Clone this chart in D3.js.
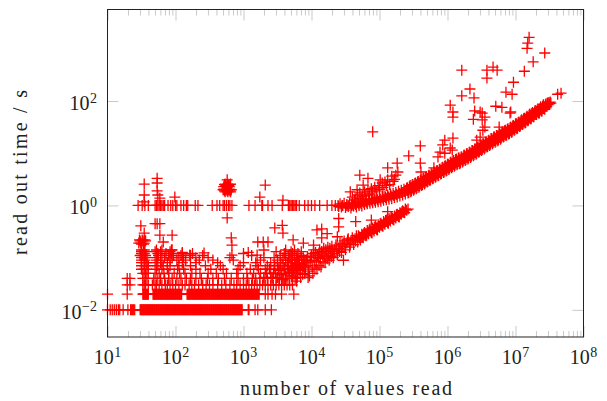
<!DOCTYPE html>
<html>
<head>
<meta charset="utf-8">
<script src="https://cdn.jsdelivr.net/npm/d3@7"></script>
<style>
body { margin: 0; background: #fff; }
text { font-family: "Liberation Serif", serif; fill: #222; }
</style>
</head>
<body>
<script>
// all readings below are log10 of the value
let xMajor = [1, 2, 3, 4, 5, 6, 7, 8];
let yMajor = [-2, 0, 2];
let xLabel = "number of values read";
let yLabel = "read out time / s";

// times come in steps of 0.01 s, so the short reads sit on rows
let rowOne = [1.00,1.04,1.07,1.10,1.13,1.16,1.18,1.23,1.30,1.34,1.35,1.37,1.38,1.40,
  1.48,1.49,1.50,1.51,1.52,1.53,1.54,1.55,1.56,1.57,1.58,1.59,1.60,1.61,1.62,1.63,1.64,1.65,1.66,1.67,1.68,1.69,
  1.70,1.71,1.72,1.73,1.74,1.75,1.76,1.77,1.78,1.79,1.80,1.81,1.82,1.83,1.84,1.85,1.86,1.87,1.88,1.89,
  1.90,1.91,1.92,1.93,1.94,1.95,1.96,1.97,1.98,1.99,2.00,2.01,2.02,2.03,2.04,2.05,2.06,2.07,2.08,2.09,
  2.10,2.11,2.12,2.13,2.14,2.15,2.16,2.17,2.18,2.19,2.20,2.21,2.22,2.23,2.24,2.25,2.26,2.27,2.28,2.29,
  2.30,2.31,2.32,2.33,2.34,2.35,2.36,2.37,2.38,2.39,2.40,2.41,2.42,2.43,2.44,2.45,2.46,2.47,2.48,2.49,
  2.50,2.51,2.52,2.53,2.54,2.55,2.56,2.57,2.58,2.59,2.60,2.61,2.62,2.63,2.64,2.65,2.66,2.67,2.68,2.69,
  2.70,2.71,2.72,2.73,2.74,2.75,2.76,2.77,2.78,2.79,2.80,2.81,2.82,2.83,2.84,2.85,2.86,2.87,2.88,2.89,
  2.90,2.91,2.92,2.93,2.94,2.95,2.96,2.97,2.98,
  3.07,3.08,3.17,3.21,3.32,3.41];
let rowTwo = [1.00,1.29,1.52,1.53,1.54,1.55,1.56,1.57,1.58,1.59,1.60,1.67,1.68,1.69,1.70,1.71,1.72,1.73,1.74,1.75,1.76,1.77,1.78,1.79,
  1.80,1.81,1.82,1.83,1.84,1.85,1.86,1.87,1.88,1.89,1.90,1.91,1.92,1.93,1.94,1.95,1.96,1.97,1.98,1.99,
  2.00,2.01,2.02,2.03,2.04,2.05,2.06,2.07,2.08,2.09,2.17,2.18,2.19,2.20,2.21,2.22,2.23,2.24,2.25,2.26,2.27,2.28,2.29,
  2.30,2.31,2.32,2.33,2.34,2.35,2.36,2.37,2.38,2.39,2.40,2.41,2.42,2.43,2.44,2.45,2.46,2.47,2.48,2.49,
  2.50,2.51,2.52,2.53,2.54,2.55,2.56,2.57,2.58,2.59,2.60,2.61,2.62,2.63,2.64,2.65,2.66,2.67,2.68,2.69,
  2.70,2.71,2.72,2.73,2.74,2.75,2.76,2.77,2.78,2.79,2.80,2.81,2.82,2.83,2.84,2.85,2.86,2.87,2.88,2.89,
  2.90,2.91,2.92,2.93,2.94,2.95,2.96,2.97,2.98,2.99,3.00,3.01,3.02,3.03,3.04,3.05,3.06,3.07,3.08,3.09,
  3.10,3.11,3.12,3.13,3.14,3.15,3.16,3.17,3.18,3.19,3.20,3.21,3.22,3.23,
  3.32,3.36,3.42,3.47,3.56,3.74];
let rowThree = [1.29,1.33,1.52,1.54,1.56,1.60,1.66,1.70,1.72,1.76,1.80,1.85,1.88,1.92,1.96,2.00,2.05,2.10,2.14,2.20,2.24,2.28,
  2.34,2.40,2.45,2.50,2.55,2.62,2.68,2.74,2.80,2.86,2.90,2.95,3.00,3.04,3.08,3.12,3.16,3.20,3.24,3.28,3.32,3.36,3.40,3.44,3.48,3.52,3.56,3.60,3.64,3.68,3.72];
let rowFour = [1.29,1.33,1.52,1.55,1.58,1.68,1.73,1.78,1.84,1.90,1.95,2.02,2.08,2.16,2.22,2.30,2.38,2.47,2.55,2.63,2.72,2.82,2.92,
  3.00,3.06,3.13,3.18,3.24,3.30,3.35,3.42,3.48,3.53,3.58,3.62,3.67,3.72,3.76];
let rowFive = [1.52,1.56,1.60,1.70,1.76,1.83,1.90,1.98,2.06,2.14,2.24,2.36,2.48,2.60,2.75,2.90,3.05,3.15,3.25,3.33,3.40,3.47,3.55,3.62,3.68,3.74,3.80];
let rowSix = [1.50,1.54,1.58,1.72,1.80,1.88,2.03,2.12,2.30,2.52,2.70,2.92,3.10,3.22,3.32,3.45,3.52,3.60,3.66,3.72,3.78,3.84];
let rowSeven = [1.50,1.55,1.60,1.74,1.82,1.92,2.05,2.22,2.44,2.66,2.95,3.20,3.35,3.50,3.58,3.65,3.70,3.76,3.82,3.88];
let rowEight = [1.50,1.54,1.58,1.70,1.78,1.88,2.10,2.30,2.62,3.00,3.18,3.40,3.55,3.65,3.72,3.80,3.86];
let rowNine = [1.50,1.55,1.72,1.80,1.92,2.02,2.15,2.35,2.55,2.85,3.25,3.50,3.62,3.72,3.80,3.90];
let rowTen = [1.50,1.54,1.58,1.73,1.84,1.95,2.05,2.12,2.30,2.48,2.80,3.30,3.45,3.58,3.68,3.78];
let rowEleven = [1.48,1.52,1.56,1.75,1.90,1.97,2.08,2.22,2.40,3.12,3.54,3.66,3.75,3.85];
let rowTwelve = [1.50,1.54,1.74,1.86,1.94,2.10,2.25,3.00,3.60,3.72,3.80];
let rowThirteen = [1.50,1.55,1.70,1.78,1.92,3.48,3.70,3.85];
let rowFourteen = [1.50,1.54,1.72,1.80,1.94,3.30,3.62,3.75];
let rowLevels = [0.01,0.02,0.03,0.04,0.05,0.06,0.07,0.08,0.09,0.10,0.11,0.12,0.13,0.14];

// reads that took about a second
let rowSecond = [1.45,1.51,1.55,1.60,1.70,1.72,1.74,1.76,1.78,1.80,1.82,1.84,1.89,1.93,1.96,2.00,2.02,2.08,2.12,2.16,2.18,2.29,2.33,
  2.54,2.61,2.65,2.70,2.72,2.75,2.78,2.80,2.83,3.08,3.17,3.27,3.28,3.36,3.42,3.57,3.66,3.68,3.70,3.72,3.74,3.76,3.78,3.82,
  3.90,3.95,4.00,4.05,4.12,4.23,4.30,4.35,4.39,4.45,4.52,4.55,4.59];

let lowerBranch = [[3.70,-1.15],[3.72,-1.40],[3.74,-1.25],[3.76,-1.10],[3.78,-1.45],[3.80,-1.20],[3.82,-1.05],[3.84,-1.38],[3.86,-1.15],[3.88,-1.00],
  [3.90,-1.30],[3.92,-1.10],[3.94,-0.98],[3.96,-1.26],[3.98,-1.08],[4.00,-0.95],[4.02,-1.30],[4.04,-1.05],[4.06,-0.90],[4.08,-1.22],[4.10,-1.00],
  [4.12,-0.85],[4.14,-1.18],[4.16,-0.95],[4.18,-0.82],[4.20,-1.10],[4.22,-0.92],[4.24,-0.80],[4.26,-1.05],[4.28,-0.88],[4.30,-0.78],[4.32,-1.00],
  [4.34,-0.85],[4.36,-0.76],[4.38,-0.95],[4.40,-0.82],[4.42,-0.72],[4.44,-0.90],[4.46,-0.78],[4.48,-0.68],[4.50,-0.85],[4.52,-0.72],[4.54,-0.64],
  [4.56,-0.80],[4.58,-0.68],[4.60,-0.62],[4.62,-0.75],[4.64,-0.64],[4.66,-0.58],[4.68,-0.70],[4.70,-0.60],[4.72,-0.66],[4.74,-0.55],[4.76,-0.62],
  [4.78,-0.52],[4.80,-0.58],[4.82,-0.48],[4.84,-0.54],[4.86,-0.45],[4.88,-0.52],[4.90,-0.43],[4.92,-0.49],[4.94,-0.40],[4.96,-0.46],[4.98,-0.37],
  [5.00,-0.42],[5.02,-0.34],[5.04,-0.39],[5.06,-0.31],[5.08,-0.36],[5.10,-0.28],[5.12,-0.33],[5.14,-0.25],[5.16,-0.30],[5.18,-0.22],[5.20,-0.27],
  [5.22,-0.20],[5.24,-0.24],[5.26,-0.17],[5.28,-0.21],[5.30,-0.14],[5.32,-0.17],[5.34,-0.10],[5.36,-0.13],[5.38,-0.07],[5.40,-0.09],[5.42,-0.07]];
let lowerMiddle = [[4.71,-0.63],[4.75,-0.59],[4.79,-0.55],[4.83,-0.51],[4.87,-0.49],[4.91,-0.46],[4.95,-0.43],[4.99,-0.40],[5.03,-0.37],[5.07,-0.34],
  [5.11,-0.31],[5.15,-0.28],[5.19,-0.25],[5.23,-0.22],[5.27,-0.19],[5.31,-0.16],[5.35,-0.12]];
let lowerEdge = [[4.33,-0.92],[4.37,-0.84],[4.41,-0.88],[4.45,-0.74],[4.49,-0.78],[4.53,-0.66],[4.57,-0.74],[4.61,-0.66],[4.65,-0.68],[4.69,-0.58],
  [4.73,-0.61],[4.77,-0.54],[4.81,-0.57],[4.85,-0.47],[4.89,-0.53],[4.93,-0.42],[4.97,-0.47],[5.01,-0.35],[5.05,-0.40],[5.09,-0.29],[5.13,-0.34],
  [5.17,-0.23],[5.21,-0.28],[5.25,-0.18],[5.29,-0.22],[5.33,-0.12],[5.37,-0.14]];
let lowerWedge = [[3.30,-1.38],[3.34,-1.30],[3.38,-1.22],[3.42,-1.38],[3.44,-1.30],[3.46,-1.15],[3.50,-1.38],[3.52,-1.25],[3.54,-1.10],[3.56,-1.32],
  [3.58,-1.42],[3.60,-1.20],[3.62,-1.05],[3.64,-1.35],[3.66,-1.15],[3.68,-1.28],[3.70,-1.00],[3.71,-1.35],[3.73,-1.20],[3.75,-1.05],[3.77,-1.30],
  [3.79,-1.38],[3.81,-1.12],[3.83,-1.25],[3.85,-0.98],[3.87,-1.32],[3.89,-1.18],[3.91,-1.22],[3.93,-1.05],[3.95,-1.15],[3.97,-1.35],[3.99,-1.00],
  [4.01,-1.18],[4.03,-0.92],[4.05,-1.22],[4.07,-1.08],[4.09,-0.95],[4.11,-1.15],[4.13,-1.02],[4.15,-0.88],[4.17,-1.08],[4.19,-0.98],[4.21,-0.85],
  [4.23,-1.02],[4.25,-0.95],[4.27,-0.82],[4.29,-0.98],[4.31,-0.88]];

let upperBranch = [[4.40,-0.02],[4.42,0.03],[4.44,-0.03],[4.46,0.00],[4.48,0.04],[4.50,-0.04],[4.52,0.02],[4.54,-0.02],[4.56,0.04],[4.58,-0.05],
  [4.60,0.03],[4.62,-0.01],[4.64,0.05],[4.66,-0.03],[4.68,0.06],[4.70,0.00],[4.72,0.07],[4.74,-0.01],[4.76,0.08],[4.78,0.02],[4.80,0.09],[4.82,0.03],
  [4.84,0.11],[4.86,0.04],[4.88,0.12],[4.90,0.05],[4.92,0.13],[4.94,0.06],[4.96,0.15],[4.98,0.07],[5.00,0.16],[5.02,0.08],[5.04,0.17],[5.06,0.10],
  [5.08,0.18],[5.10,0.11],[5.12,0.20],[5.14,0.12],[5.16,0.22],[5.18,0.13],[5.20,0.23],[5.22,0.15],[5.24,0.25],[5.26,0.16],[5.28,0.27],[5.30,0.18],
  [5.32,0.29],[5.34,0.20],[5.36,0.31],[5.38,0.22],[5.40,0.33],[5.42,0.24],[5.44,0.36],[5.46,0.26],[5.48,0.39],[5.50,0.29],[5.52,0.42],[5.54,0.32],
  [5.56,0.45],[5.58,0.35],[5.60,0.48],[5.62,0.38],[5.64,0.51],[5.66,0.41],[5.68,0.54],[5.70,0.45],[5.72,0.57],[5.74,0.48],[5.76,0.60],[5.78,0.51],
  [5.80,0.63],[5.82,0.54],[5.84,0.66],[5.86,0.57],[5.88,0.69],[5.90,0.60],[5.92,0.72],[5.94,0.63],[5.96,0.75],[5.98,0.66],[6.00,0.79],[6.02,0.69],
  [6.04,0.82],[6.06,0.72],[6.08,0.85],[6.10,0.75],[6.12,0.88],[6.14,0.78],[6.16,0.91],[6.18,0.80],[6.20,0.93],[6.22,0.83],[6.24,0.96],[6.26,0.86],
  [6.28,0.99],[6.30,0.89],[6.32,1.02],[6.34,0.92],[6.36,1.05],[6.38,0.95],[6.40,1.08],[6.42,0.98],[6.44,1.11],[6.46,1.02],[6.48,1.15],[6.50,1.05],
  [6.52,1.18],[6.54,1.08],[6.56,1.21],[6.58,1.12],[6.60,1.24],[6.62,1.15],[6.64,1.28],[6.66,1.18],[6.68,1.31],[6.70,1.21],[6.72,1.34],[6.74,1.24],
  [6.76,1.37],[6.78,1.27],[6.80,1.40],[6.82,1.31],[6.84,1.43],[6.86,1.34],[6.88,1.46],[6.90,1.37],[6.92,1.49],[6.94,1.40],[6.96,1.52],[6.98,1.44],
  [7.00,1.56],[7.02,1.47],[7.04,1.59],[7.06,1.51],[7.08,1.62],[7.10,1.55],[7.12,1.66],[7.14,1.58],[7.16,1.69],[7.18,1.62],[7.20,1.73],[7.22,1.66],
  [7.24,1.76],[7.26,1.70],[7.28,1.79],[7.30,1.74],[7.32,1.83],[7.34,1.77],[7.36,1.86],[7.38,1.81],[7.40,1.90],[7.42,1.85],[7.44,1.93],[7.46,1.90],
  [7.47,1.96],[7.48,1.93],[7.49,1.97],[7.50,1.95],[7.51,1.98],[7.52,1.96]];
let upperMiddle = [[4.61,0.01],[4.65,0.02],[4.69,0.03],[4.73,0.03],[4.77,0.05],[4.81,0.06],[4.85,0.08],[4.89,0.09],[4.93,0.10],[4.97,0.11],[5.01,0.12],
  [5.05,0.14],[5.09,0.15],[5.13,0.16],[5.17,0.18],[5.21,0.19],[5.25,0.21],[5.29,0.23],[5.33,0.25],[5.37,0.27],[5.41,0.29],[5.43,0.30],[5.47,0.33],
  [5.49,0.34],[5.51,0.36],[5.53,0.37],[5.55,0.39],[5.57,0.40],[5.59,0.42],[5.61,0.43],[5.63,0.45],[5.65,0.46],[5.67,0.48],[5.69,0.50],[5.71,0.51],
  [5.73,0.53],[5.75,0.54],[5.77,0.56],[5.79,0.57],[5.81,0.59],[5.83,0.60],[5.85,0.62],[5.87,0.63],[5.89,0.65],[5.91,0.66],[5.93,0.68],[5.95,0.69],
  [5.97,0.71],[5.99,0.72],[6.01,0.74],[6.03,0.76],[6.05,0.77],[6.07,0.79],[6.09,0.80],[6.11,0.82],[6.13,0.83],[6.15,0.85],[6.17,0.86],[6.19,0.87],
  [6.21,0.88],[6.23,0.90],[6.25,0.91],[6.27,0.93],[6.29,0.94],[6.31,0.96],[6.33,0.97],[6.35,0.99],[6.37,1.00],[6.39,1.02],[6.41,1.03],[6.43,1.05],
  [6.45,1.07],[6.47,1.09],[6.49,1.10],[6.51,1.12],[6.53,1.13],[6.55,1.15],[6.57,1.17],[6.59,1.18],[6.61,1.20],[6.63,1.22],[6.65,1.23],[6.67,1.25],
  [6.69,1.26],[6.71,1.28],[6.73,1.29],[6.75,1.31],[6.77,1.32],[6.79,1.34],[6.81,1.36],[6.83,1.37],[6.85,1.39],[6.87,1.40],[6.89,1.42],[6.91,1.43],
  [6.93,1.45],[6.95,1.46],[6.97,1.48],[6.99,1.50],[7.01,1.52],[7.03,1.53],[7.05,1.55],[7.07,1.57],[7.09,1.59],[7.11,1.61],[7.13,1.62],[7.15,1.64],
  [7.17,1.66],[7.19,1.68],[7.21,1.70],[7.23,1.71],[7.25,1.73],[7.27,1.75],[7.29,1.77],[7.31,1.79],[7.33,1.80],[7.35,1.82],[7.37,1.84],[7.39,1.86],
  [7.41,1.88],[7.43,1.89]];
let upperEdge = [[5.41,0.34],[5.43,0.25],[5.45,0.38],[5.47,0.28],[5.49,0.40],[5.51,0.31],[5.53,0.43],[5.55,0.34],[5.57,0.46],[5.59,0.37],[5.61,0.49],
  [5.63,0.40],[5.65,0.52],[5.67,0.43],[5.69,0.55],[5.71,0.46],[5.73,0.58],[5.75,0.49],[5.77,0.61],[5.79,0.52],[5.81,0.64],[5.83,0.55],[5.85,0.67],
  [5.87,0.58],[5.89,0.70],[5.91,0.61],[5.93,0.73],[5.95,0.64],[5.97,0.76],[5.99,0.67],[6.01,0.79],[6.03,0.71],[6.05,0.83],[6.07,0.74],[6.09,0.86],
  [6.11,0.77],[6.13,0.89],[6.15,0.80],[6.17,0.91],[6.19,0.82],[6.21,0.93],[6.23,0.85],[6.25,0.96],[6.27,0.88],[6.29,0.99],[6.31,0.91],[6.33,1.02],
  [6.35,0.94],[6.37,1.05],[6.39,0.97],[6.41,1.08],[6.43,1.00],[6.45,1.12],[6.47,1.04],[6.49,1.15],[6.51,1.07],[6.53,1.18],[6.55,1.10],[6.57,1.22],
  [6.59,1.13],[6.61,1.25],[6.63,1.17],[6.65,1.28],[6.67,1.20],[6.69,1.31],[6.71,1.23],[6.73,1.34],[6.75,1.26],[6.77,1.37],[6.79,1.29],[6.81,1.41],
  [6.83,1.32],[6.85,1.44],[6.87,1.35],[6.89,1.47],[6.91,1.38],[6.93,1.50],[6.95,1.41],[6.97,1.53],[6.99,1.45],[7.01,1.57],[7.03,1.48],[7.05,1.60],
  [7.07,1.52],[7.09,1.64],[7.11,1.56],[7.13,1.67],[7.15,1.59],[7.17,1.71],[7.19,1.63],[7.21,1.75],[7.23,1.66],[7.25,1.78],[7.27,1.70],[7.29,1.82],
  [7.31,1.74],[7.33,1.85],[7.35,1.77],[7.37,1.89],[7.39,1.81],[7.41,1.93],[7.43,1.84],[7.45,1.95]];

// the short arm sitting on top of the upper branch
let sideArm = [[4.60,0.16],[4.63,0.10],[4.65,0.12],[4.68,0.20],[4.71,0.24],[4.73,0.14],[4.75,0.18],[4.78,0.26],[4.80,0.20],[4.83,0.30],[4.85,0.22],[4.88,0.32],[4.90,0.26],
  [4.93,0.35],[4.95,0.28],[4.98,0.38],[5.00,0.31],[5.04,0.43],[5.05,0.34],[5.08,0.45],[5.10,0.38],[5.12,0.49],[5.15,0.40],[5.18,0.56],[5.20,0.46],[5.22,0.50],[5.24,0.58],[5.27,0.64]];

// the two tight clusters near 600 values and near 30 values
let clusterSecond = [[2.70,0.30],[2.72,0.40],[2.74,0.30],[2.76,0.40],[2.78,0.30],[2.80,0.40],[2.82,0.30],[2.71,0.36],[2.73,0.26],[2.75,0.36],[2.77,0.26],[2.79,0.36],[2.81,0.26],[2.76,0.34],
  [2.72,0.28],[2.74,0.38],[2.76,0.28],[2.78,0.38],[2.80,0.28],[2.71,0.31],[2.73,0.41],[2.75,0.31],[2.77,0.41],[2.79,0.31],[2.81,0.41]];
let clusterTenth = [[1.46,-0.72],[1.48,-0.68],[1.50,-0.74],[1.52,-0.68],[1.54,-0.72],[1.56,-0.68],[1.47,-0.66],[1.49,-0.72],[1.51,-0.66],[1.53,-0.74],[1.55,-0.66]];

let scatter = [[6.21,2.59],[6.58,2.59],[6.67,2.65],[6.73,2.59],[6.58,2.44],[6.33,2.23],[6.21,2.10],[6.39,2.06],[6.04,1.92],[6.08,1.79],[6.40,1.81],
  [6.51,1.77],[6.71,1.90],[6.80,1.88],[6.86,2.17],[6.95,2.13],[6.97,2.36],[7.13,2.57],[7.26,2.75],[7.43,2.92],[7.17,3.01],[7.18,3.11],[7.20,3.22],
  [7.62,2.13],[7.67,2.15],[6.93,1.79],[6.08,1.69],[6.38,1.65],[6.48,1.79],[6.55,1.69],[6.51,1.64],[6.55,1.50],[6.52,1.44],[6.76,1.50],[6.48,1.31],
  [6.43,1.25],[5.96,1.25],[6.08,1.29],[5.93,1.16],[6.04,1.10],[5.89,1.02],[5.96,1.00],[5.86,0.93],[6.07,1.06],[6.92,1.77],[4.90,1.41],[5.60,1.14],
  [5.43,0.95],[5.60,0.81],[5.61,0.64],[5.80,0.72],[5.12,0.72],[5.26,0.81],[4.71,0.58],[4.83,0.52],[5.01,0.49],[4.57,0.26],[4.67,0.30],[4.76,0.39],
  [1.54,0.41],[1.54,0.20],[1.54,0.07],[1.73,0.52],[1.73,0.43],[1.73,0.28],[1.74,0.20],[1.77,0.14],[1.99,0.16],[3.32,0.39],[3.24,0.16],[3.58,0.10],[2.76,0.49],
  [2.76,-0.24],[1.49,-0.39],[1.73,-0.35],[1.70,-0.35],[1.77,-0.35],[1.54,-0.53],[1.77,-0.57],[1.82,-0.70],[1.95,-0.57],[1.95,-0.85],[2.10,-0.90],
  [2.21,-0.95],[2.42,-0.91],[2.82,-0.62],[2.83,-0.76],[2.83,-0.95],[3.07,-0.90],[3.20,-0.95],[3.29,-0.70],[3.21,-0.70],[3.36,-0.70],[3.46,-0.43],
  [3.57,-0.38],[3.58,-0.53],[3.73,-0.66],[4.08,-0.47],[4.15,-0.45],[4.40,-0.25],[4.65,-0.31],[4.40,-0.41],[4.38,-0.60],[4.23,-0.54],[4.15,-0.62],
  [4.03,-0.76],[4.03,-0.85],[3.88,-0.72],[5.12,-0.12],[4.88,-0.28],[4.47,-1.05],[3.95,-1.38]];

let width = 607;
let height = 401;
let left = 107.5, right = 583.5, top0 = 9.5, bottom = 337;

let svg = d3.select("body")
    .append("svg")
    .attr("width", width)
    .attr("height", height)
    .style("display", "block");

let x = d3.scaleLog().domain([1e1, 1e8]).range([left, right]);
let y = d3.scaleLog().domain([Math.pow(10, -2.52), Math.pow(10, 3.753)]).range([bottom, top0]);

// minor ticks at 2..9 of every decade
let xMinor = [];
xMajor.slice(0, -1).forEach(e => {
    [2, 3, 4, 5, 6, 7, 8, 9].forEach(m => xMinor.push(m * Math.pow(10, e)));
});
let xMajorValues = xMajor.map(e => Math.pow(10, e));
let yMajorValues = yMajor.map(e => Math.pow(10, e));

function tickGroup(axis, tx, ty) {
    let g = svg.append("g")
        .attr("transform", `translate(${tx},${ty})`)
        .call(axis);
    g.select(".domain").remove();
    g.selectAll("line").attr("stroke", "#bbb").attr("stroke-width", 0.8);
    g.selectAll("text").remove();
    return g;
}

tickGroup(d3.axisBottom(x).tickValues(xMinor).tickSize(-6), 0, bottom);
tickGroup(d3.axisBottom(x).tickValues(xMajorValues).tickSize(-11), 0, bottom);
tickGroup(d3.axisTop(x).tickValues(xMinor).tickSize(-6), 0, top0);
tickGroup(d3.axisTop(x).tickValues(xMajorValues).tickSize(-11), 0, top0);
tickGroup(d3.axisLeft(y).tickValues(yMajorValues).tickSize(-11), left, 0);
tickGroup(d3.axisRight(y).tickValues(yMajorValues).tickSize(-11), right, 0);

// collect everything into one list of [log x, log y]
let points = [];
[rowOne, rowTwo, rowThree, rowFour, rowFive, rowSix, rowSeven, rowEight, rowNine, rowTen, rowEleven, rowTwelve, rowThirteen, rowFourteen]
    .forEach((row, i) => {
        row.forEach(v => points.push([v, Math.log10(rowLevels[i])]));
    });
rowSecond.forEach(v => points.push([v, 0]));
points = points.concat(lowerBranch, lowerMiddle, lowerEdge, lowerWedge, upperBranch, upperMiddle, upperEdge, sideArm, clusterSecond, clusterTenth, scatter);

svg.append("g")
    .selectAll("path")
    .data(points)
    .enter().append("path")
    .attr("d", "M-5.5,0H5.5M0,-5.5V5.5")
    .attr("transform", d => `translate(${x(Math.pow(10, d[0]))},${y(Math.pow(10, d[1]))})`)
    .attr("fill", "none")
    .attr("stroke", "#ff0000")
    .attr("stroke-width", 1.3);

svg.append("rect")
    .attr("x", left)
    .attr("y", top0)
    .attr("width", right - left)
    .attr("height", bottom - top0)
    .attr("fill", "none")
    .attr("stroke", "#222")
    .attr("stroke-width", 1);

// tick labels, 10 with a raised exponent
function powerLabel(g, e) {
    g.append("tspan").text("10");
    g.append("tspan")
        .attr("dy", -7.5)
        .attr("dx", 0.5)
        .attr("font-size", 14)
        .text(String(e).replace("-", "\u2212"));
}

xMajor.forEach(e => {
    let t = svg.append("text")
        .attr("x", x(Math.pow(10, e)))
        .attr("y", 364)
        .attr("text-anchor", "middle")
        .attr("font-size", 20);
    powerLabel(t, e);
});

yMajor.forEach(e => {
    let t = svg.append("text")
        .attr("x", 97)
        .attr("y", y(Math.pow(10, e)) + 9)
        .attr("text-anchor", "end")
        .attr("font-size", 20);
    powerLabel(t, e);
});

svg.append("text")
    .attr("x", 346)
    .attr("y", 395)
    .attr("text-anchor", "middle")
    .attr("font-size", 20)
    .attr("textLength", 212)
    .text(xLabel);

svg.append("text")
    .attr("transform", "translate(27,172.5) rotate(-90)")
    .attr("text-anchor", "middle")
    .attr("font-size", 20)
    .attr("textLength", 165)
    .text(yLabel);
</script>
</body>
</html>
